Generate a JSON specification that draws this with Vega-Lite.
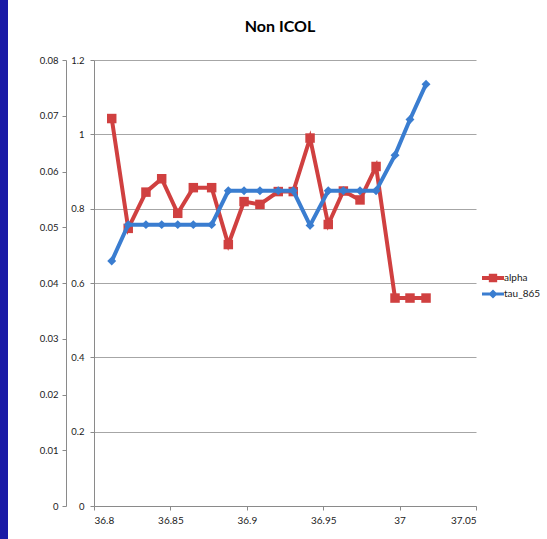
{
  "$schema": "https://vega.github.io/schema/vega-lite/v6.json",
  "width": 382,
  "height": 446,
  "autosize": {"type": "none"},
  "padding": {"left": 94, "top": 60, "right": 71, "bottom": 33},
  "background": "#1a1aa6",
  "title": {"text": "Non ICOL", "fontSize": 16, "fontWeight": "bold", "font": "Lato", "color": "#000000", "frame": "group", "anchor": "middle", "dx": -5, "offset": 20},
  "config": {
    "view": {"fill": "white", "stroke": "white", "strokeWidth": 172},
    "axis": {"labelFont": "Lato", "labelFontSize": 9.5, "labelColor": "#1a1a1a", "domainColor": "#8a8a8a", "tickColor": "#8a8a8a", "tickSize": 4, "gridColor": "#a6a6a6", "gridWidth": 1.2, "title": null},
    "legend": {"labelFont": "Lato", "labelFontSize": 10, "labelColor": "#1a1a1a"}
  },
  "data": {"values": [
    {"x": 36.8116, "alpha": 0.0695, "tau_865": 0.659},
    {"x": 36.8224, "alpha": 0.0498, "tau_865": 0.757},
    {"x": 36.8340, "alpha": 0.0563, "tau_865": 0.757},
    {"x": 36.8443, "alpha": 0.0587, "tau_865": 0.757},
    {"x": 36.8548, "alpha": 0.0525, "tau_865": 0.757},
    {"x": 36.8650, "alpha": 0.0571, "tau_865": 0.757},
    {"x": 36.8770, "alpha": 0.0571, "tau_865": 0.757},
    {"x": 36.8879, "alpha": 0.0469, "tau_865": 0.848},
    {"x": 36.8982, "alpha": 0.0546, "tau_865": 0.848},
    {"x": 36.9086, "alpha": 0.0541, "tau_865": 0.848},
    {"x": 36.9206, "alpha": 0.0564, "tau_865": 0.848},
    {"x": 36.9304, "alpha": 0.0564, "tau_865": 0.848},
    {"x": 36.9414, "alpha": 0.0660, "tau_865": 0.755},
    {"x": 36.9533, "alpha": 0.0505, "tau_865": 0.848},
    {"x": 36.9632, "alpha": 0.0565, "tau_865": 0.848},
    {"x": 36.9741, "alpha": 0.0549, "tau_865": 0.848},
    {"x": 36.9846, "alpha": 0.0609, "tau_865": 0.848},
    {"x": 36.9970, "alpha": 0.0373, "tau_865": 0.944},
    {"x": 37.0068, "alpha": 0.0373, "tau_865": 1.040},
    {"x": 37.0173, "alpha": 0.0373, "tau_865": 1.135}
  ]},
  "encoding": {
    "x": {"field": "x", "type": "quantitative",
      "scale": {"domain": [36.8, 37.05], "nice": false, "zero": false},
      "axis": {"values": [36.8, 36.85, 36.9, 36.95, 37, 37.05], "format": "~g", "grid": false, "labelPadding": 5, "labelFontSize": 10}}
  },
  "layer": [
    {
      "encoding": {
        "y": {"field": "alpha", "type": "quantitative",
          "scale": {"domain": [0, 0.08], "nice": false},
          "axis": {"orient": "left", "offset": 28, "values": [0, 0.01, 0.02, 0.03, 0.04, 0.05, 0.06, 0.07, 0.08], "format": "~g", "grid": false, "labelPadding": 4}},
        "color": {"datum": "alpha", "type": "nominal",
          "scale": {"domain": ["alpha", "tau_865"], "range": ["#d04040", "#3a7dd0"]},
          "legend": {"title": null, "orient": "none", "legendX": 388, "legendY": 207, "padding": 0, "rowPadding": 0, "symbolSize": 484, "labelOffset": 0,
            "encode": {"symbols": {"update": {
              "shape": {"signal": "datum.value === 'alpha' ? 'M-1,-0.18H1V0.18H-1Z M-0.38,-0.38H0.38V0.38H-0.38Z' : 'M-1,-0.14H1V0.14H-1Z M0,-0.42L0.42,0L0,0.42L-0.42,0Z'"},
              "fill": {"signal": "datum.value === 'alpha' ? '#d04040' : '#3a7dd0'"},
              "stroke": {"value": "transparent"},
              "strokeWidth": {"value": 0},
              "opacity": {"value": 1}
            }}}}}
      },
      "layer": [
        {"mark": {"type": "line", "strokeWidth": 4}},
        {"mark": {"type": "point", "shape": "square", "filled": true, "size": 90, "opacity": 1}}
      ]
    },
    {
      "encoding": {
        "y": {"field": "tau_865", "type": "quantitative",
          "scale": {"domain": [0, 1.2], "nice": false},
          "axis": {"orient": "left", "offset": 0, "values": [0, 0.2, 0.4, 0.6, 0.8, 1, 1.2], "format": "~g", "grid": true, "labelPadding": 6}},
        "color": {"datum": "tau_865", "type": "nominal"}
      },
      "layer": [
        {"mark": {"type": "line", "strokeWidth": 4}},
        {"mark": {"type": "point", "shape": "diamond", "filled": true, "size": 80, "opacity": 1}}
      ]
    }
  ],
  "resolve": {"scale": {"y": "independent"}, "axis": {"y": "independent"}}
}
